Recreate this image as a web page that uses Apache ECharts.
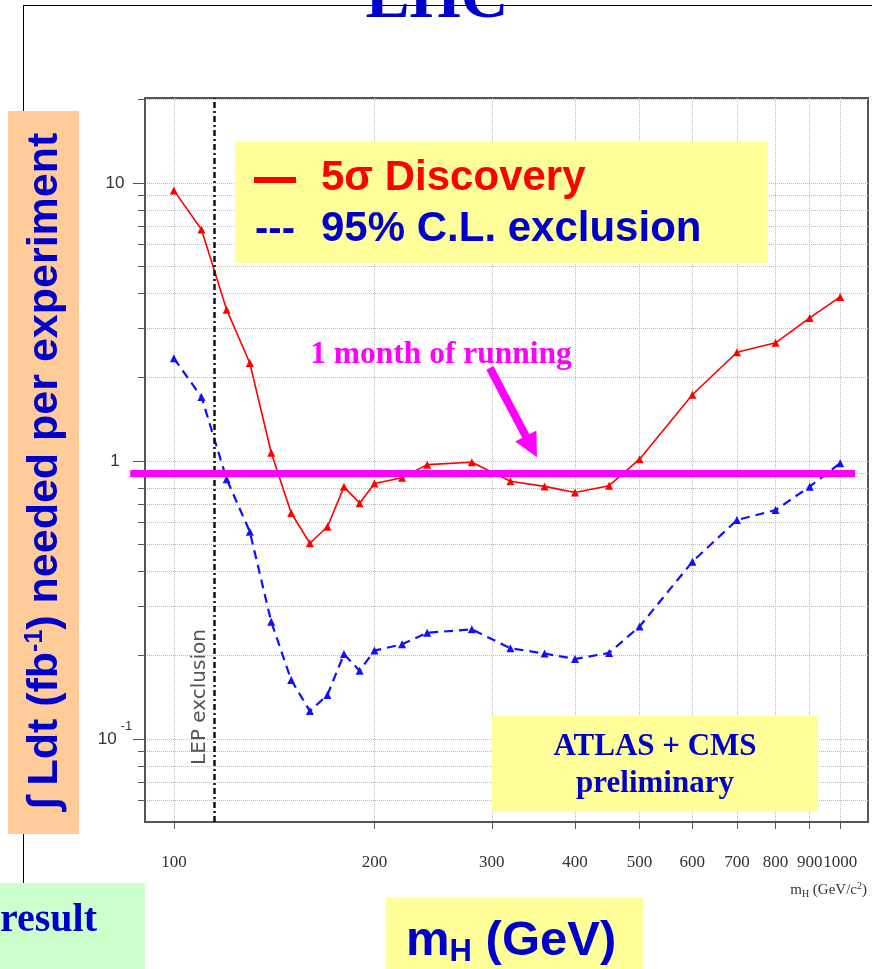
<!DOCTYPE html>
<html>
<head>
<meta charset="utf-8">
<script src="https://cdn.jsdelivr.net/npm/echarts@6/dist/echarts.min.js"></script>
<style>
html,body{margin:0;padding:0;background:#fff;}
#chart{width:872px;height:969px;}
</style>
</head>
<body>
<div id="chart"></div>
<script>
// ---- data ----
const masses = [100,110,120,130,140,150,160,170,180,190,200,220,240,280,320,360,400,450,500,600,700,800,900,1000];
const discovery5sigma = [9.4,6.8,3.5,2.25,1.07,0.65,0.506,0.58,0.807,0.705,0.83,0.87,0.97,0.99,0.845,0.81,0.77,0.815,1.015,1.73,2.46,2.66,3.27,3.89];
const exclusion95CL = [2.34,1.70,0.86,0.557,0.264,0.163,0.126,0.144,0.202,0.176,0.208,0.219,0.241,0.248,0.212,0.203,0.194,0.204,0.254,0.434,0.613,0.666,0.808,0.981];
const xTickValues = [100,200,300,400,500,600,700,800,900,1000];
const yGridValues = [0.06,0.07,0.08,0.09,0.1,0.2,0.3,0.4,0.5,0.6,0.7,0.8,0.9,1,2,3,4,5,6,7,8,9,10,20];
const yLabelValues = [0.1,1,10];
const xRange = [90.5,1101];
const yRange = [0.0503,20.2];
const lepLimit = 114.4;
const runningLumi = 0.905;
const runningMassRange = [86,1053];
const arrowFromPoint = [298,2.16];
const arrowToPoint = [344,1.126];

const lg = Math.log10;
const toPts = (xs, ys) => xs.map((m, i) => [lg(m), lg(ys[i])]);

const chart = echarts.init(document.getElementById('chart'), null, {renderer: 'canvas'});

const blue = '#0000cc';
const option = {
  animation: false,
  grid: {left: 145, right: 4, top: 98, bottom: 147, show: true, borderColor: '#555', borderWidth: 2, backgroundColor: 'rgba(0,0,0,0)'},
  xAxis: {
    type: 'value', min: lg(xRange[0]), max: lg(xRange[1]),
    axisLine: {show: true, onZero: false, lineStyle: {color: '#555', width: 2}},
    axisTick: {show: true, customValues: xTickValues.map(lg), length: 7, lineStyle: {color: '#555'}},
    axisLabel: {customValues: xTickValues.map(lg), formatter: v => String(Math.round(Math.pow(10, v))),
      margin: 32, fontFamily: 'Liberation Serif', fontSize: 17, color: '#333'},
    splitLine: {show: true, lineStyle: {type: 'dotted', color: '#bbb', width: 1}}
  },
  yAxis: [{
    type: 'value', min: lg(yRange[0]), max: lg(yRange[1]), position: 'left',
    axisLine: {show: true, onZero: false, lineStyle: {color: '#555', width: 2}},
    axisTick: {show: true, customValues: yGridValues.map(lg), length: 7, lineStyle: {color: '#555'}},
    axisLabel: {show: false},
    splitLine: {show: true, lineStyle: {type: 'dotted', color: '#bbb', width: 1}}
  }, {
    type: 'value', min: lg(yRange[0]), max: lg(yRange[1]), position: 'left',
    axisLine: {show: false, onZero: false},
    axisTick: {show: true, customValues: yLabelValues.map(lg), length: 12, lineStyle: {color: '#555'}},
    axisLabel: {customValues: yLabelValues.map(lg), margin: 30, align: 'center',
      fontFamily: 'Liberation Sans', fontSize: 17, color: '#333',
      formatter: v => { const r = Math.round(v); return r < 0 ? '{b|10}{s|' + r + '}' : String(Math.pow(10, r)); },
      rich: {b: {fontFamily: 'Liberation Sans', fontSize: 17, color: '#333'},
             s: {fontFamily: 'Liberation Sans', fontSize: 13, color: '#333', padding: [0, 0, 26, 4]}}},
    splitLine: {show: false}
  }],
  series: [{
    name: '5σ Discovery', type: 'line', xAxisIndex: 0, yAxisIndex: 0,
    data: toPts(masses, discovery5sigma),
    symbol: 'triangle', symbolSize: 8, z: 3,
    itemStyle: {color: '#ff0000'}, lineStyle: {color: '#ff0000', width: 1.6}
  }, {
    name: '95% C.L. exclusion', type: 'line', xAxisIndex: 0, yAxisIndex: 0,
    data: toPts(masses, exclusion95CL),
    symbol: 'triangle', symbolSize: 8, z: 3,
    itemStyle: {color: '#1010ff'}, lineStyle: {color: '#1010ff', width: 2.2, type: [9, 6]}
  }, {
    name: 'LEP exclusion', type: 'line', xAxisIndex: 0, yAxisIndex: 0, data: [], z: 4,
    markLine: {silent: true, symbol: ['none', 'none'], label: {show: false},
      lineStyle: {color: '#111', width: 2.5, type: [6, 3, 2, 3]},
      data: [{xAxis: lg(lepLimit)}]}
  }, {
    name: '1 month of running', type: 'lines', coordinateSystem: 'cartesian2d', xAxisIndex: 0, yAxisIndex: 0,
    clip: false, z: 6, symbol: 'none',
    lineStyle: {color: '#ff00ff', width: 7, opacity: 1},
    data: [{coords: [[lg(runningMassRange[0]), lg(runningLumi)], [lg(runningMassRange[1]), lg(runningLumi)]]}]
  }, {
    name: 'arrow', type: 'lines', coordinateSystem: 'cartesian2d', xAxisIndex: 0, yAxisIndex: 0,
    clip: false, z: 6, symbol: ['none', 'triangle'], symbolSize: 24,
    lineStyle: {color: '#ff00ff', width: 8, opacity: 1},
    data: [{coords: [[lg(arrowFromPoint[0]), lg(arrowFromPoint[1])], [lg(arrowToPoint[0]), lg(arrowToPoint[1])]]}]
  }],
  graphic: [
    {type: 'line', z: 1, shape: {x1: 23, y1: 5.5, x2: 872, y2: 5.5}, style: {stroke: '#000', lineWidth: 1}},
    {type: 'line', z: 1, shape: {x1: 23.5, y1: 5, x2: 23.5, y2: 883}, style: {stroke: '#000', lineWidth: 1}},
    {type: 'text', z: 50, x: 437, y: 0, style: {text: 'LHC', font: 'bold 66px "Liberation Serif"', fill: blue, textAlign: 'center', textVerticalAlign: 'middle'}},
    // y-axis title box
    {type: 'rect', z: 40, shape: {x: 8, y: 111, width: 71, height: 723}, style: {fill: '#ffcc99'}},
    {type: 'text', z: 50, x: 45, y: 471, rotation: Math.PI / 2,
      style: {text: '{a|∫ Ldt (fb}{s|-1}{a|) needed per experiment}', textAlign: 'center', textVerticalAlign: 'middle',
        rich: {a: {fontFamily: 'Liberation Sans', fontWeight: 'bold', fontSize: 43, fill: blue},
               s: {fontFamily: 'Liberation Sans', fontWeight: 'bold', fontSize: 25, fill: blue, padding: [0, 0, 20, 0]}}}},
    // legend box
    {type: 'rect', z: 40, shape: {x: 235, y: 142, width: 533, height: 121}, style: {fill: '#ffff99'}},
    {type: 'text', z: 50, x: 255, y: 180, style: {text: '—', font: 'bold 40px "Liberation Sans"', fill: '#ff0000', stroke: '#ff0000', lineWidth: 2, textAlign: 'left', textVerticalAlign: 'middle'}},
    {type: 'text', z: 50, x: 321, y: 178, style: {text: '5σ Discovery', font: 'bold 42px "Liberation Sans"', fill: '#ff0000', textAlign: 'left', textVerticalAlign: 'middle'}},
    {type: 'text', z: 50, x: 255, y: 230, style: {text: '---', font: 'bold 40px "Liberation Sans"', fill: blue, textAlign: 'left', textVerticalAlign: 'middle'}},
    {type: 'text', z: 50, x: 321, y: 229, style: {text: '95% C.L. exclusion', font: 'bold 42px "Liberation Sans"', fill: blue, textAlign: 'left', textVerticalAlign: 'middle'}},
    // annotation text
    {type: 'text', z: 50, x: 441, y: 355, style: {text: '1 month of running', font: 'bold 31.5px "Liberation Serif"', fill: '#ff00ff', textAlign: 'center', textVerticalAlign: 'middle'}},
    {type: 'text', z: 50, x: 200, y: 697, rotation: Math.PI / 2, style: {text: 'LEP exclusion', font: '20px "DejaVu Sans"', fill: '#555', textAlign: 'center', textVerticalAlign: 'middle'}},
    // ATLAS + CMS box
    {type: 'rect', z: 40, shape: {x: 492, y: 716, width: 326, height: 96}, style: {fill: '#ffff99'}},
    {type: 'text', z: 50, x: 655, y: 747, style: {text: 'ATLAS + CMS', font: 'bold 31px "Liberation Serif"', fill: blue, textAlign: 'center', textVerticalAlign: 'middle'}},
    {type: 'text', z: 50, x: 655, y: 784, style: {text: 'preliminary', font: 'bold 31px "Liberation Serif"', fill: blue, textAlign: 'center', textVerticalAlign: 'middle'}},
    // x-axis unit
    {type: 'text', z: 50, x: 867, y: 890,
      style: {text: '{a|m}{b|H}{a| (GeV/c}{c|2}{a|)}', textAlign: 'right', textVerticalAlign: 'middle',
        rich: {a: {fontFamily: 'Liberation Serif', fontSize: 15, fill: '#333'},
               b: {fontFamily: 'Liberation Serif', fontSize: 10, fill: '#333', padding: [8, 0, 0, 0]},
               c: {fontFamily: 'Liberation Serif', fontSize: 10, fill: '#333', padding: [0, 0, 8, 0]}}}},
    // big x title box
    {type: 'rect', z: 40, shape: {x: 386, y: 898, width: 257, height: 71}, style: {fill: '#ffff99'}},
    {type: 'text', z: 50, x: 406, y: 941,
      style: {text: '{a|m}{s|H}{a| (GeV)}', textAlign: 'left', textVerticalAlign: 'middle',
        rich: {a: {fontFamily: 'Liberation Sans', fontWeight: 'bold', fontSize: 49, fill: blue},
               s: {fontFamily: 'Liberation Sans', fontWeight: 'bold', fontSize: 31, fill: blue, padding: [22, 0, 0, 0]}}}},
    // green box bottom-left
    {type: 'rect', z: 40, shape: {x: 0, y: 883, width: 145, height: 86}, style: {fill: '#ccffcc'}},
    {type: 'text', z: 50, x: 97, y: 921, style: {text: 'result', font: 'bold 40px "Liberation Serif"', fill: blue, textAlign: 'right', textVerticalAlign: 'middle'}}
  ]
};
chart.setOption(option);
</script>
</body>
</html>
